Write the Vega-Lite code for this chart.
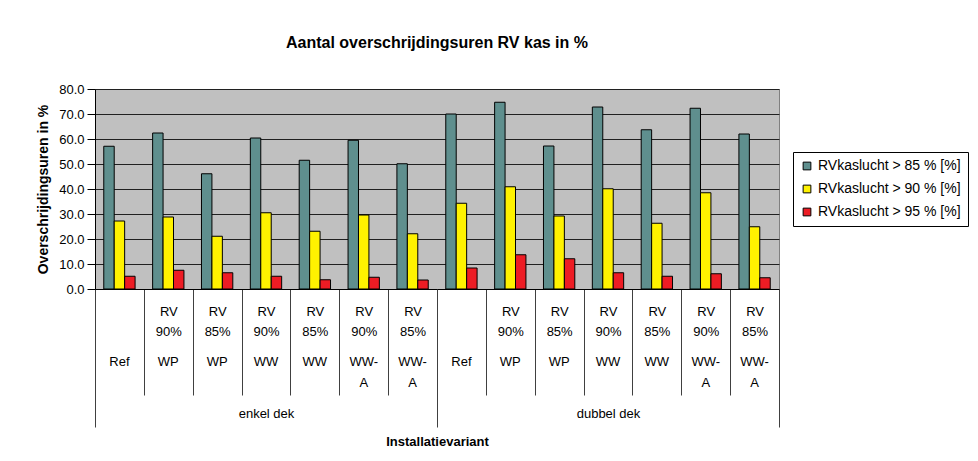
{
  "$schema": "https://vega.github.io/schema/vega-lite/v6.json",
  "width": 684,
  "height": 200,
  "autosize": {"type": "none"},
  "padding": {"left": 95, "top": 89, "right": 199, "bottom": 172},
  "background": "white",
  "title": {"text": "Aantal overschrijdingsuren RV kas in %", "font": "Liberation Sans", "fontSize": 16, "fontWeight": "bold", "anchor": "middle", "offset": 32, "color": "black"},
  "config": {
    "font": "Liberation Sans",
    "view": {"fill": "#C0C0C0", "stroke": "#808080", "strokeWidth": 1}
  },
  "data": {"values": [
    {"cat": "e1|_|Ref", "deck": "enkel dek", "series": "RVkaslucht > 85 % [%]", "value": 57.1},
    {"cat": "e1|_|Ref", "deck": "enkel dek", "series": "RVkaslucht > 90 % [%]", "value": 27.2},
    {"cat": "e1|_|Ref", "deck": "enkel dek", "series": "RVkaslucht > 95 % [%]", "value": 5.1},
    {"cat": "e2|RV 90%|WP", "deck": "enkel dek", "series": "RVkaslucht > 85 % [%]", "value": 62.4},
    {"cat": "e2|RV 90%|WP", "deck": "enkel dek", "series": "RVkaslucht > 90 % [%]", "value": 28.8},
    {"cat": "e2|RV 90%|WP", "deck": "enkel dek", "series": "RVkaslucht > 95 % [%]", "value": 7.5},
    {"cat": "e3|RV 85%|WP", "deck": "enkel dek", "series": "RVkaslucht > 85 % [%]", "value": 46.1},
    {"cat": "e3|RV 85%|WP", "deck": "enkel dek", "series": "RVkaslucht > 90 % [%]", "value": 21.1},
    {"cat": "e3|RV 85%|WP", "deck": "enkel dek", "series": "RVkaslucht > 95 % [%]", "value": 6.5},
    {"cat": "e4|RV 90%|WW", "deck": "enkel dek", "series": "RVkaslucht > 85 % [%]", "value": 60.4},
    {"cat": "e4|RV 90%|WW", "deck": "enkel dek", "series": "RVkaslucht > 90 % [%]", "value": 30.5},
    {"cat": "e4|RV 90%|WW", "deck": "enkel dek", "series": "RVkaslucht > 95 % [%]", "value": 5.1},
    {"cat": "e5|RV 85%|WW", "deck": "enkel dek", "series": "RVkaslucht > 85 % [%]", "value": 51.5},
    {"cat": "e5|RV 85%|WW", "deck": "enkel dek", "series": "RVkaslucht > 90 % [%]", "value": 23.1},
    {"cat": "e5|RV 85%|WW", "deck": "enkel dek", "series": "RVkaslucht > 95 % [%]", "value": 3.7},
    {"cat": "e6|RV 90%|WW- A", "deck": "enkel dek", "series": "RVkaslucht > 85 % [%]", "value": 59.5},
    {"cat": "e6|RV 90%|WW- A", "deck": "enkel dek", "series": "RVkaslucht > 90 % [%]", "value": 29.6},
    {"cat": "e6|RV 90%|WW- A", "deck": "enkel dek", "series": "RVkaslucht > 95 % [%]", "value": 4.7},
    {"cat": "e7|RV 85%|WW- A", "deck": "enkel dek", "series": "RVkaslucht > 85 % [%]", "value": 50.1},
    {"cat": "e7|RV 85%|WW- A", "deck": "enkel dek", "series": "RVkaslucht > 90 % [%]", "value": 22.1},
    {"cat": "e7|RV 85%|WW- A", "deck": "enkel dek", "series": "RVkaslucht > 95 % [%]", "value": 3.6},
    {"cat": "d1|_|Ref", "deck": "dubbel dek", "series": "RVkaslucht > 85 % [%]", "value": 70.0},
    {"cat": "d1|_|Ref", "deck": "dubbel dek", "series": "RVkaslucht > 90 % [%]", "value": 34.3},
    {"cat": "d1|_|Ref", "deck": "dubbel dek", "series": "RVkaslucht > 95 % [%]", "value": 8.4},
    {"cat": "d2|RV 90%|WP", "deck": "dubbel dek", "series": "RVkaslucht > 85 % [%]", "value": 74.7},
    {"cat": "d2|RV 90%|WP", "deck": "dubbel dek", "series": "RVkaslucht > 90 % [%]", "value": 40.9},
    {"cat": "d2|RV 90%|WP", "deck": "dubbel dek", "series": "RVkaslucht > 95 % [%]", "value": 13.7},
    {"cat": "d3|RV 85%|WP", "deck": "dubbel dek", "series": "RVkaslucht > 85 % [%]", "value": 57.2},
    {"cat": "d3|RV 85%|WP", "deck": "dubbel dek", "series": "RVkaslucht > 90 % [%]", "value": 29.2},
    {"cat": "d3|RV 85%|WP", "deck": "dubbel dek", "series": "RVkaslucht > 95 % [%]", "value": 12.1},
    {"cat": "d4|RV 90%|WW", "deck": "dubbel dek", "series": "RVkaslucht > 85 % [%]", "value": 72.8},
    {"cat": "d4|RV 90%|WW", "deck": "dubbel dek", "series": "RVkaslucht > 90 % [%]", "value": 40.1},
    {"cat": "d4|RV 90%|WW", "deck": "dubbel dek", "series": "RVkaslucht > 95 % [%]", "value": 6.5},
    {"cat": "d5|RV 85%|WW", "deck": "dubbel dek", "series": "RVkaslucht > 85 % [%]", "value": 63.7},
    {"cat": "d5|RV 85%|WW", "deck": "dubbel dek", "series": "RVkaslucht > 90 % [%]", "value": 26.3},
    {"cat": "d5|RV 85%|WW", "deck": "dubbel dek", "series": "RVkaslucht > 95 % [%]", "value": 5.1},
    {"cat": "d6|RV 90%|WW- A", "deck": "dubbel dek", "series": "RVkaslucht > 85 % [%]", "value": 72.3},
    {"cat": "d6|RV 90%|WW- A", "deck": "dubbel dek", "series": "RVkaslucht > 90 % [%]", "value": 38.5},
    {"cat": "d6|RV 90%|WW- A", "deck": "dubbel dek", "series": "RVkaslucht > 95 % [%]", "value": 6.1},
    {"cat": "d7|RV 85%|WW- A", "deck": "dubbel dek", "series": "RVkaslucht > 85 % [%]", "value": 62.0},
    {"cat": "d7|RV 85%|WW- A", "deck": "dubbel dek", "series": "RVkaslucht > 90 % [%]", "value": 24.9},
    {"cat": "d7|RV 85%|WW- A", "deck": "dubbel dek", "series": "RVkaslucht > 95 % [%]", "value": 4.5}
  ]},
  "layer": [
    {
      "mark": {"type": "bar", "stroke": "black", "strokeWidth": 1},
      "encoding": {
        "x": {
          "field": "cat", "type": "nominal", "sort": null,
          "scale": {"paddingInner": 0, "paddingOuter": 0},
          "axis": {
            "title": null,
            "labelExpr": "isString(datum.label) ? (indexof(datum.label, '|_|') >= 0 ? ' ' : split(split(datum.label, '|')[1], ' ')) : ' '",
            "labelAngle": 0,
            "labelFontSize": 13,
            "labelColor": {"condition": {"test": "!isString(datum.value)", "value": "transparent"}, "value": "black"},
            "labelLineHeight": 20,
            "labelBaseline": "top",
            "labelPadding": -90,
            "labelLimit": 0,
            "tickBand": "extent",
            "tickSize": 106,
            "tickColor": "#404040",
            "domainColor": "black",
            "grid": false
          }
        },
        "xOffset": {"field": "series", "type": "nominal", "sort": null, "scale": {"paddingInner": 0, "paddingOuter": 0.84}},
        "y": {
          "field": "value", "type": "quantitative",
          "scale": {"domain": [0, 80], "nice": false},
          "axis": {
            "title": "Overschrijdingsuren in %",
            "titleFontSize": 14,
            "titleFontWeight": "bold",
            "titleColor": "black",
            "titlePadding": 8,
            "values": [0, 10, 20, 30, 40, 50, 60, 70, 80],
            "format": ".1f",
            "labelFontSize": 13,
            "labelColor": "black",
            "labelPadding": 3,
            "tickSize": 8,
            "tickColor": "black",
            "domainColor": "black",
            "grid": true,
            "gridColor": "#202020",
            "gridWidth": 1,
            "gridOpacity": 1
          }
        },
        "color": {
          "field": "series", "type": "nominal", "sort": null,
          "scale": {
            "domain": ["RVkaslucht > 85 % [%]", "RVkaslucht > 90 % [%]", "RVkaslucht > 95 % [%]"],
            "range": ["#5F8F8E", "#FFF200", "#ED1C24"]
          },
          "legend": {
            "title": null,
            "orient": "none",
            "legendX": 698,
            "legendY": 63,
            "strokeColor": "black",
            "fillColor": "white",
            "padding": 7,
            "symbolType": "square",
            "symbolSize": 60,
            "symbolStrokeColor": "black",
            "symbolStrokeWidth": 1,
            "symbolOpacity": 1,
            "labelFontSize": 14,
            "labelColor": "black",
            "rowPadding": 9,
            "labelOffset": 4
          }
        }
      }
    },
    {
      "mark": {"type": "rule", "opacity": 0},
      "encoding": {
        "x": {
          "field": "cat", "type": "nominal", "sort": null,
          "scale": {"paddingInner": 0, "paddingOuter": 0},
          "axis": {
            "orient": "bottom",
            "title": null,
            "labelExpr": "isString(datum.label) ? split(split(datum.label, '|')[2], ' ') : ' '",
            "labelAngle": 0,
            "labelFontSize": 13,
            "labelColor": "black",
            "labelLineHeight": 21,
            "labelBaseline": "top",
            "labelPadding": 66,
            "labelLimit": 0,
            "ticks": false,
            "tickSize": 0,
            "domain": false,
            "grid": false
          }
        }
      }
    },
    {
      "mark": {"type": "rule", "opacity": 0},
      "encoding": {
        "x": {
          "field": "deck", "type": "nominal", "sort": null,
          "scale": {"paddingInner": 0, "paddingOuter": 0},
          "axis": {
            "orient": "bottom",
            "title": "Installatievariant",
            "titleFontSize": 13,
            "titleFontWeight": "bold",
            "titleColor": "black",
            "titlePadding": 8,
            "labelFontSize": 13,
            "labelAngle": 0,
            "labelColor": "black",
            "labelBaseline": "top",
            "labelPadding": -20,
            "tickBand": "extent",
            "tickSize": 138,
            "tickColor": "#404040",
            "domain": false,
            "grid": false
          }
        }
      }
    }
  ],
  "resolve": {"scale": {"x": "independent"}, "axis": {"x": "independent"}}
}
